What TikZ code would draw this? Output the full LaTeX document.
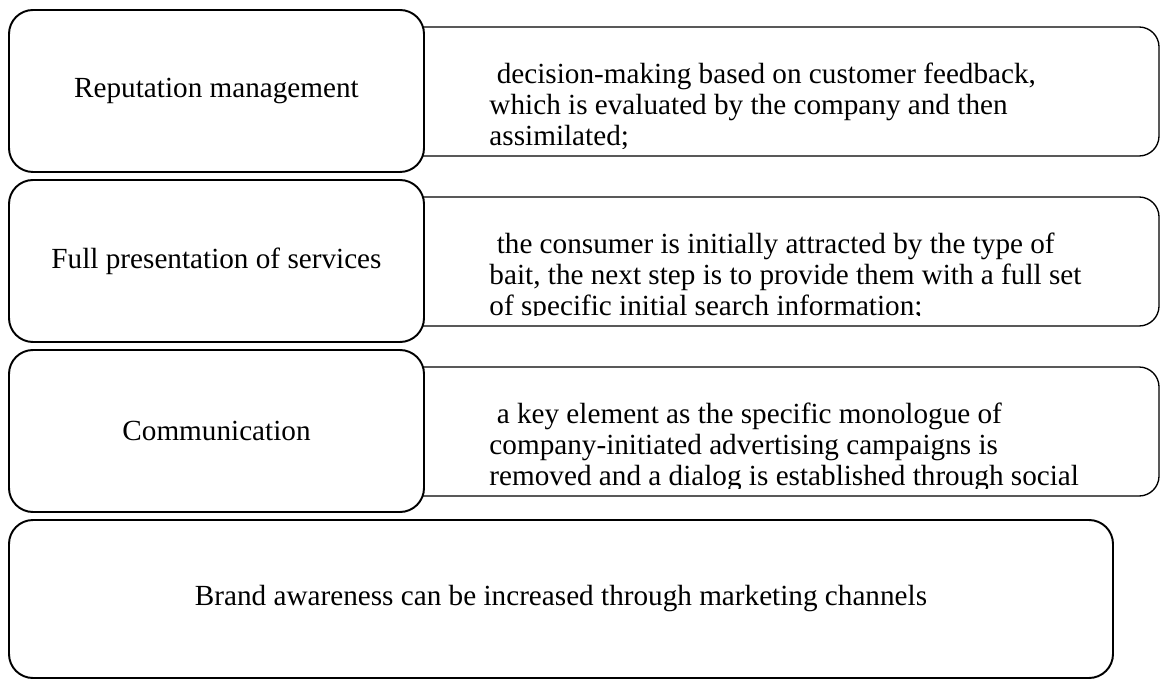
\documentclass[tikz,border=0pt]{standalone}
\usepackage{fontspec}
\setmainfont{Liberation Serif}
\newcommand{\pxu}{0.411pt}
\tikzset{
  itembox/.style={draw, line width=0.8pt, rounded corners=24*\pxu, fill=white, inner sep=0pt,
    minimum width=415*\pxu, minimum height=162*\pxu},
  notebox/.style={draw, line width=0.55pt, rounded corners=20*\pxu,
    minimum width=859*\pxu, minimum height=129*\pxu},
  % base of a multi-line node = baseline of its last line
  notetext/.style={anchor=base west, align=left, inner sep=0pt}
}
\begin{document}
\begin{tikzpicture}[x=\pxu, y=-\pxu, font=\fontsize{12}{12.74}\selectfont]
\useasboundingbox (0,0) rectangle (1160,679);
% description boxes go first, the items lie on top of them
\node[notebox] (repnote) at (729.5,91.5) {};
\node[notebox] (fullnote) at (729.5,261.5) {};
\node[notebox] (comnote) at (729.5,431.5) {};
\begin{scope}
\clip (424,27) rectangle (1160,148.5);
\node[notetext] (reptext) at (489,146) {\ decision-making based on customer feedback,\\
which is evaluated by the company and then\\
assimilated;};
\end{scope}
\begin{scope}
\clip (424,197) rectangle (1160,316);
\node[notetext] (fulltext) at (489,315) {\ the consumer is initially attracted by the type of\\
bait, the next step is to provide them with a full set\\
of specific initial search information;};
\end{scope}
\begin{scope}
\clip (424,367) rectangle (1160,488);
\node[notetext] (comtext) at (489,485) {\ a key element as the specific monologue of\\
company-initiated advertising campaigns is\\
removed and a dialog is established through social};
\end{scope}
% items
\node[itembox] (rep) at (216.5,91) {Reputation management};
\node[itembox] (full) at (216.5,261) {Full presentation of services};
\node[itembox] (com) at (216.5,431) {Communication};
\node[itembox, minimum width=1104*\pxu, minimum height=158*\pxu] (brand) at (561,599)
  {Brand awareness can be increased through marketing channels};
\end{tikzpicture}
\end{document}
